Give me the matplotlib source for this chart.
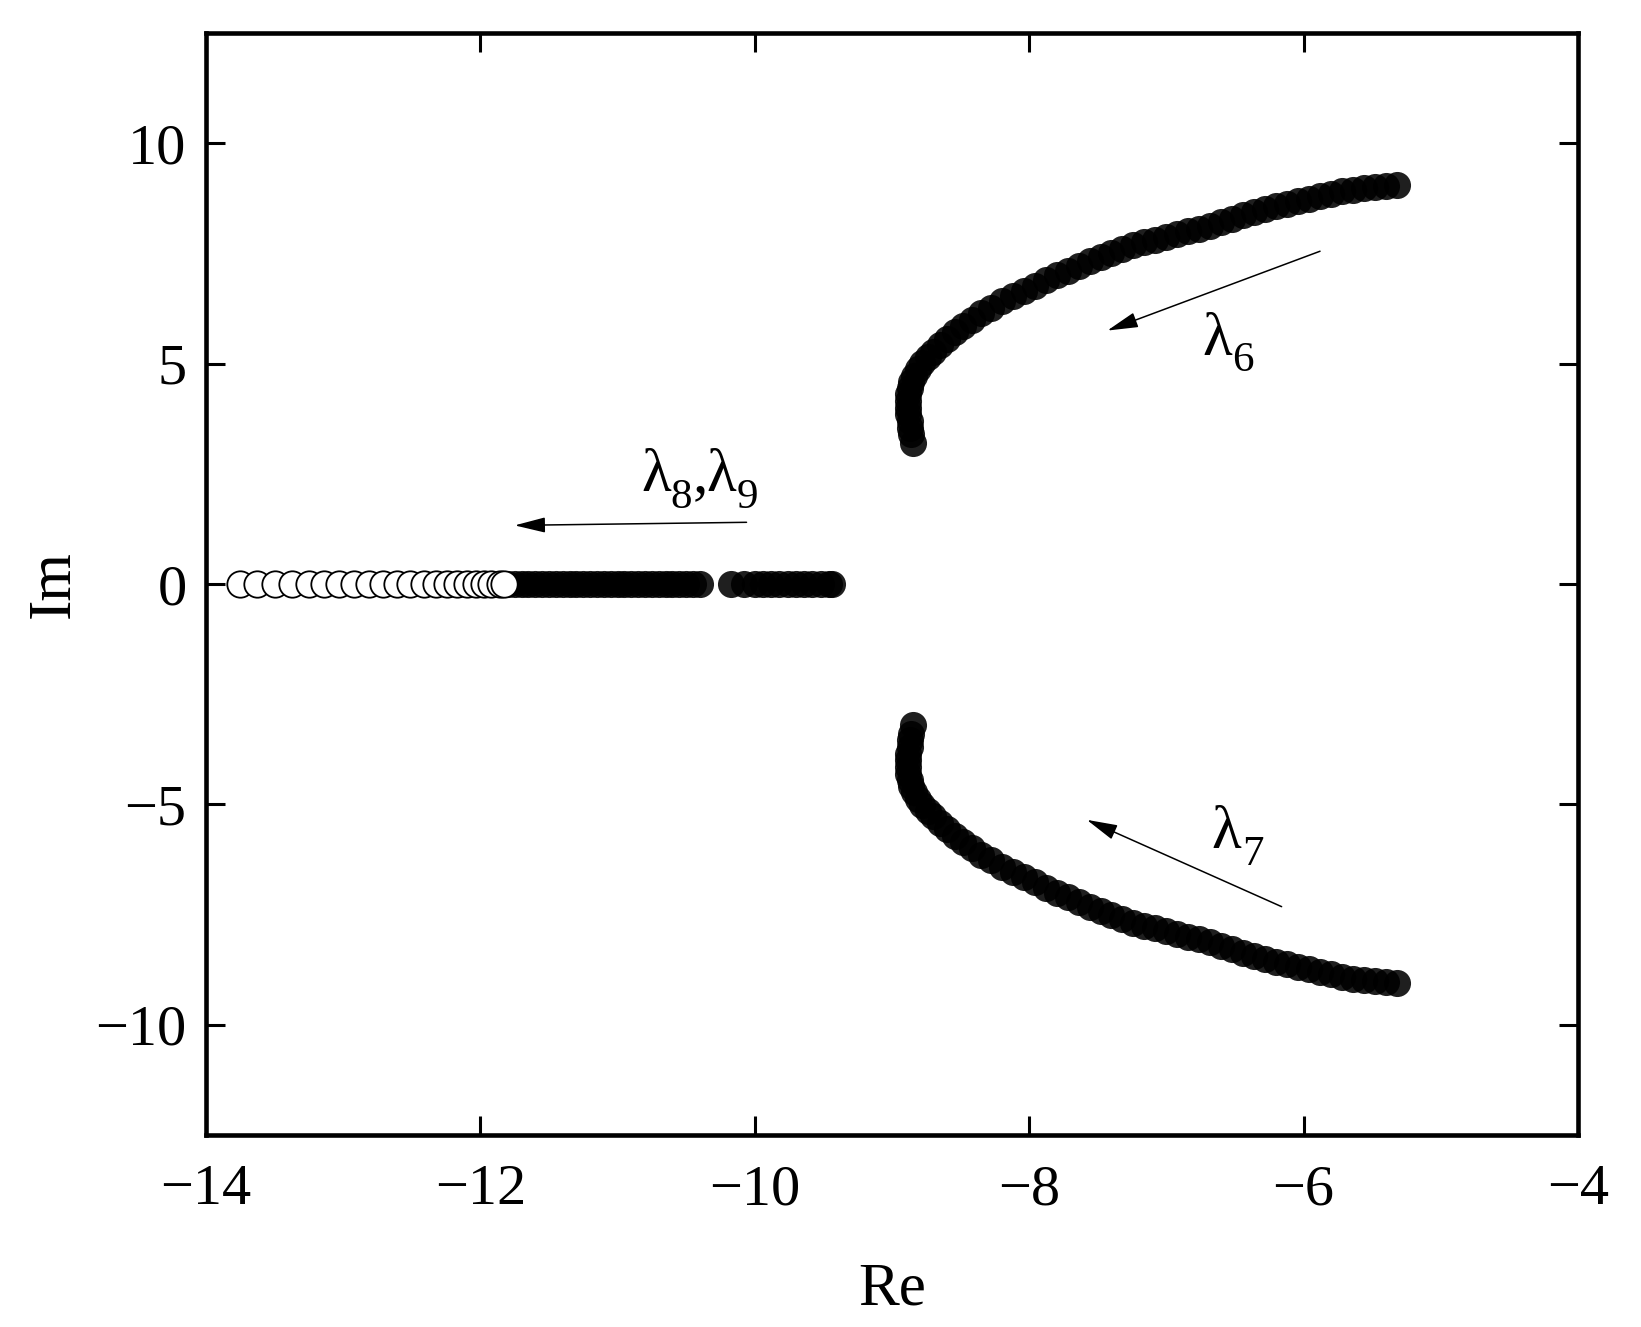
import matplotlib
matplotlib.use("Agg")
import matplotlib.pyplot as plt
from matplotlib.patches import ArrowStyle

plt.rcParams['font.family'] = ['Liberation Serif', 'DejaVu Serif']

# ---- data ----
# complex-pair branch (upper half; lower half is its conjugate)
branch_re = [-5.32, -5.40, -5.48, -5.56, -5.64, -5.72, -5.80, -5.88, -5.96, -6.04,
             -6.12, -6.20, -6.28, -6.36, -6.44, -6.52, -6.60, -6.68, -6.76, -6.84,
             -6.92, -7.00, -7.08, -7.16, -7.24, -7.32, -7.40, -7.48, -7.56, -7.64,
             -7.72, -7.80, -7.88, -7.96, -8.04, -8.12, -8.20, -8.28, -8.35, -8.42,
             -8.48, -8.54, -8.60, -8.65, -8.70, -8.74, -8.78, -8.81, -8.84, -8.86,
             -8.87, -8.88, -8.88, -8.88, -8.88, -8.87, -8.87, -8.86, -8.85]
branch_im = [9.06, 9.04, 9.01, 8.98, 8.95, 8.91, 8.85, 8.80, 8.74, 8.68,
             8.63, 8.57, 8.51, 8.44, 8.37, 8.29, 8.21, 8.13, 8.06, 8.00,
             7.94, 7.88, 7.81, 7.75, 7.68, 7.60, 7.51, 7.42, 7.32, 7.21,
             7.11, 7.00, 6.89, 6.77, 6.65, 6.53, 6.41, 6.27, 6.14, 5.99,
             5.85, 5.71, 5.56, 5.42, 5.27, 5.14, 5.01, 4.88, 4.72, 4.58,
             4.45, 4.30, 4.15, 4.00, 3.85, 3.70, 3.55, 3.40, 3.20]

# real eigenvalues, filled part
real_filled = [-11.80, -11.75, -11.70, -11.65, -11.60, -11.55, -11.50, -11.45, -11.40,
               -11.35, -11.30, -11.25, -11.20, -11.15, -11.10, -11.05, -11.00, -10.95,
               -10.90, -10.85, -10.80, -10.75, -10.70, -10.65, -10.60, -10.55, -10.50,
               -10.45, -10.40,
               -10.17, -10.08, -10.00, -9.94, -9.88, -9.82, -9.76, -9.70, -9.64,
               -9.58, -9.52, -9.46, -9.44]
# real eigenvalues, open part
real_open = [-13.75, -13.63, -13.50, -13.37, -13.25, -13.14, -13.03, -12.92, -12.81,
             -12.71, -12.61, -12.51, -12.41, -12.32, -12.24, -12.17, -12.10, -12.03,
             -11.97, -11.92, -11.86, -11.83]

xticks = [-14, -12, -10, -8, -6, -4]
yticks = [-10, -5, 0, 5, 10]

# ---- figure ----
fig = plt.figure(figsize=(16.41, 13.27), dpi=100)
ax = fig.add_axes([0.1255, 0.1447, 0.9616 - 0.1255, 0.9751 - 0.1447])

ms = 19.5
ax.plot(branch_re, branch_im, 'o', color='black', alpha=0.88, ms=ms, mew=0, zorder=3)
ax.plot(branch_re, [-v for v in branch_im], 'o', color='black', alpha=0.88, ms=ms, mew=0, zorder=3)
ax.plot(real_filled, [0] * len(real_filled), 'o', color='black', alpha=0.88, ms=ms, mew=0, zorder=3)
for xv in real_open:
    ax.plot([xv], [0], 'o', mfc='white', mec='black', mew=1.3, ms=19, zorder=4)

ax.set_xlim(-14, -4)
ax.set_ylim(-12.5, 12.5)
ax.set_xticks(xticks)
ax.set_yticks(yticks)
ax.tick_params(direction='in', length=14, width=2.2, top=True, right=True,
               labelsize=42)
ax.tick_params(axis='x', pad=21)
ax.tick_params(axis='y', pad=14)
for s in ax.spines.values():
    s.set_linewidth(3.3)

ax.set_xlabel('Re', fontsize=44, labelpad=33)
ax.set_ylabel('Im', fontsize=44, labelpad=10)

astyle = ArrowStyle('-|>', head_length=1.0, head_width=0.25)
aprops = dict(arrowstyle=astyle, mutation_scale=19, lw=1.1, color='black',
              shrinkA=0, shrinkB=0)
ax.annotate('', xy=(-7.43, 5.75), xytext=(-5.88, 7.55), arrowprops=aprops)
ax.annotate('', xy=(-7.58, -5.35), xytext=(-6.16, -7.32), arrowprops=aprops)
ax.annotate('', xy=(-11.75, 1.33), xytext=(-10.06, 1.40), arrowprops=aprops)

FS_MAIN = 44
FS_SUB = 31


def lam_label(x, y, parts):
    """parts: list of (text, dx_pt, dy_pt, size)"""
    for txt, dx, dy, size in parts:
        ax.annotate(txt, xy=(x, y), xycoords='data', xytext=(dx, dy),
                    textcoords='offset points', fontsize=size,
                    ha='left', va='baseline')


lam_label(-6.74, 5.2, [('λ', 0, 0, FS_MAIN), ('6', 22, -12, FS_SUB)])
lam_label(-6.67, -5.99, [('λ', 0, 0, FS_MAIN), ('7', 22, -12, FS_SUB)])
lam_label(-10.83, 2.10, [('λ', 0, 0, FS_MAIN), ('8', 21, -12, FS_SUB),
                         (',', 37, 0, FS_MAIN), ('λ', 47, 0, FS_MAIN),
                         ('9', 69, -12, FS_SUB)])

fig.savefig('out.png', dpi=100)
